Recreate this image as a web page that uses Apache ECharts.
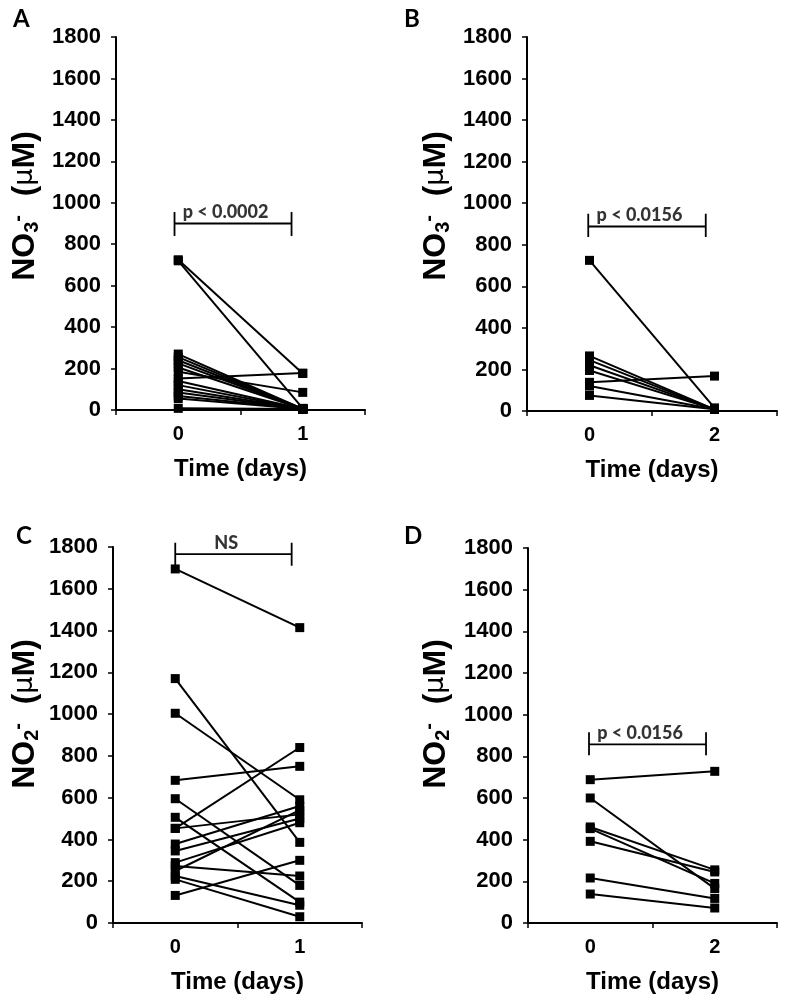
<!DOCTYPE html>
<html>
<head>
<meta charset="utf-8">
<script src="https://cdn.jsdelivr.net/npm/echarts@6/dist/echarts.min.js"></script>
<style>
html,body{margin:0;padding:0;background:#fff;}
#chart{width:786px;height:1005px;}
</style>
</head>
<body>
<div id="chart"></div>
<script>
// ---- data ----
const catsAC = ['0', '1'];
const catsBD = ['0', '2'];
const yTicks = [0, 200, 400, 600, 800, 1000, 1200, 1400, 1600, 1800];

// Panel A: NO3- day 0 -> day 1
const A_day0 = [725, 720, 270, 255, 240, 225, 205, 185, 152, 140, 120, 100, 85, 67, 55, 8];
const A_day1 = [176, 8, 5, 5, 5, 5, 5, 85, 178, 5, 5, 5, 5, 5, 5, 5];
// Panel B: NO3- day 0 -> day 2
const B_day0 = [725, 265, 245, 220, 195, 138, 120, 75];
const B_day2 = [15, 8, 8, 8, 8, 168, 8, 8];
// Panel C: NO2- day 0 -> day 1
const C_day0 = [1695, 1170, 1004, 683, 595, 506, 453, 453, 378, 345, 289, 273, 249, 225, 209, 132];
const C_day1 = [1414, 386, 590, 750, 180, 100, 520, 840, 560, 500, 480, 225, 540, 85, 30, 300];
// Panel D: NO2- day 0 -> day 2
const D_day0 = [688, 600, 461, 453, 392, 216, 139];
const D_day2 = [728, 165, 255, 190, 245, 118, 72];

const pLabels = ['p < 0.0002', 'p < 0.0156', 'NS', 'p < 0.0156'];
const panelLetters = ['A', 'B', 'C', 'D'];
const xTitle = 'Time (days)';

// bracket specs (hidden value axis: category centres at 0 and 1)
const brackets = [
  {x0: -0.03, x1: 0.91, y: 900, lo: 840, hi: 955, tx: 0.38, ty: 955},
  {x0: -0.01, x1: 0.93, y: 888, lo: 837, hi: 949, tx: 0.40, ty: 943},
  {x0: 0.0, x1: 0.935, y: 1766, lo: 1710, hi: 1820, tx: 0.41, ty: 1820},
  {x0: -0.01, x1: 0.93, y: 857, lo: 805, hi: 916, tx: 0.40, ty: 912}
];

// ---- layout ----
const grids = [
  {left: 116, top: 37, width: 249, height: 373},
  {left: 527, top: 37, width: 250, height: 374},
  {left: 113, top: 547, width: 249, height: 376},
  {left: 528, top: 548, width: 249, height: 375}
];
const panels = [
  {cats: catsAC, d0: A_day0, d1: A_day1},
  {cats: catsBD, d0: B_day0, d1: B_day2},
  {cats: catsAC, d0: C_day0, d1: C_day1},
  {cats: catsBD, d0: D_day0, d1: D_day2}
];

const FONT = 'Liberation Sans, Arial, sans-serif';
const FONT2 = 'Lato, Carlito, sans-serif';
const BLACK = '#000';

const xAxes = [], yAxes = [], series = [];
panels.forEach((p, i) => {
  xAxes.push({
    type: 'category', gridIndex: i, data: p.cats, boundaryGap: true,
    axisLine: {onZero: false, lineStyle: {color: BLACK, width: 2}},
    axisTick: {show: true, length: 5, lineStyle: {color: BLACK, width: 1.5}},
    axisLabel: {fontFamily: FONT, fontWeight: 'bold', fontSize: 20, color: BLACK, margin: 14},
    name: xTitle, nameLocation: 'middle', nameGap: 47,
    nameTextStyle: {fontFamily: FONT, fontWeight: 'bold', fontSize: 24, color: BLACK}
  });
  xAxes.push({
    type: 'value', gridIndex: i, min: -0.5, max: 1.5, show: false
  });
  yAxes.push({
    type: 'value', gridIndex: i, min: 0, max: 1800, interval: 200,
    splitLine: {show: false},
    axisLine: {show: true, onZero: false, lineStyle: {color: BLACK, width: 2}},
    axisTick: {show: true, length: 5, lineStyle: {color: BLACK, width: 1.5}},
    axisLabel: {fontFamily: FONT, fontWeight: 'bold', fontSize: 22, color: BLACK, margin: 15,
      formatter: v => yTicks.indexOf(v) >= 0 ? String(v) : ''}
  });
  p.d0.forEach((v, k) => {
    series.push({
      type: 'line', xAxisIndex: 2 * i, yAxisIndex: i,
      data: [v, p.d1[k]],
      symbol: 'rect', symbolSize: 9,
      itemStyle: {color: BLACK},
      lineStyle: {color: BLACK, width: 2},
      silent: true, animation: false
    });
  });
  const b = brackets[i];
  const segs = [
    [[b.x0, b.lo], [b.x0, b.hi]],
    [[b.x0, b.y], [b.x1, b.y]],
    [[b.x1, b.lo], [b.x1, b.hi]]
  ];
  segs.forEach(s => series.push({
    type: 'line', xAxisIndex: 2 * i + 1, yAxisIndex: i, data: s, clip: false,
    symbol: 'none', lineStyle: {color: BLACK, width: 1.8}, silent: true, animation: false
  }));
  series.push({
    type: 'scatter', xAxisIndex: 2 * i + 1, yAxisIndex: i, clip: false,
    data: [[b.tx, b.ty]], symbolSize: 0, itemStyle: {color: 'transparent'},
    silent: true, animation: false,
    label: {show: true, position: 'inside', formatter: pLabels[i],
      fontFamily: FONT2, fontWeight: 900, fontSize: 18, color: BLACK}
  });
});

function yName(sub) {
  return {
    text: '{m|NO}{s|' + sub + '}{p|-}{m|  (}{u|\u03bc}{m|M)}',
    rich: {
      m: {fontFamily: FONT, fontWeight: 'bold', fontSize: 32, lineHeight: 34, verticalAlign: 'middle', fill: BLACK},
      s: {fontFamily: FONT, fontWeight: 'bold', fontSize: 20, lineHeight: 20, verticalAlign: 'bottom', fill: BLACK},
      p: {fontFamily: FONT, fontWeight: 'bold', fontSize: 20, lineHeight: 20, verticalAlign: 'top', fill: BLACK, padding: [0, 1, 0, 0]},
      u: {fontFamily: 'DejaVu Sans, sans-serif', fontWeight: 'normal', fontSize: 27, lineHeight: 34, verticalAlign: 'middle', fill: BLACK}
    },
    align: 'center', verticalAlign: 'middle'
  };
}

const graphic = [
  {type: 'text', left: 13, top: 7, style: {text: panelLetters[0], font: 'bold 24px ' + FONT2, fill: BLACK}},
  {type: 'text', left: 404, top: 7, style: {text: panelLetters[1], font: 'bold 24px ' + FONT2, fill: BLACK}},
  {type: 'text', left: 16, top: 524, style: {text: panelLetters[2], font: 'bold 24px ' + FONT2, fill: BLACK}},
  {type: 'text', left: 404, top: 524, style: {text: panelLetters[3], font: 'bold 24px ' + FONT2, fill: BLACK}},
  {type: 'text', x: 25, y: 206, rotation: Math.PI / 2, style: yName('3')},
  {type: 'text', x: 436, y: 206, rotation: Math.PI / 2, style: yName('3')},
  {type: 'text', x: 25, y: 714, rotation: Math.PI / 2, style: yName('2')},
  {type: 'text', x: 436, y: 714, rotation: Math.PI / 2, style: yName('2')}
];

const chart = echarts.init(document.getElementById('chart'), null, {renderer: 'canvas'});
chart.setOption({
  backgroundColor: '#fff',
  animation: false,
  grid: grids,
  xAxis: xAxes,
  yAxis: yAxes,
  series: series,
  graphic: graphic
});
</script>
</body>
</html>
